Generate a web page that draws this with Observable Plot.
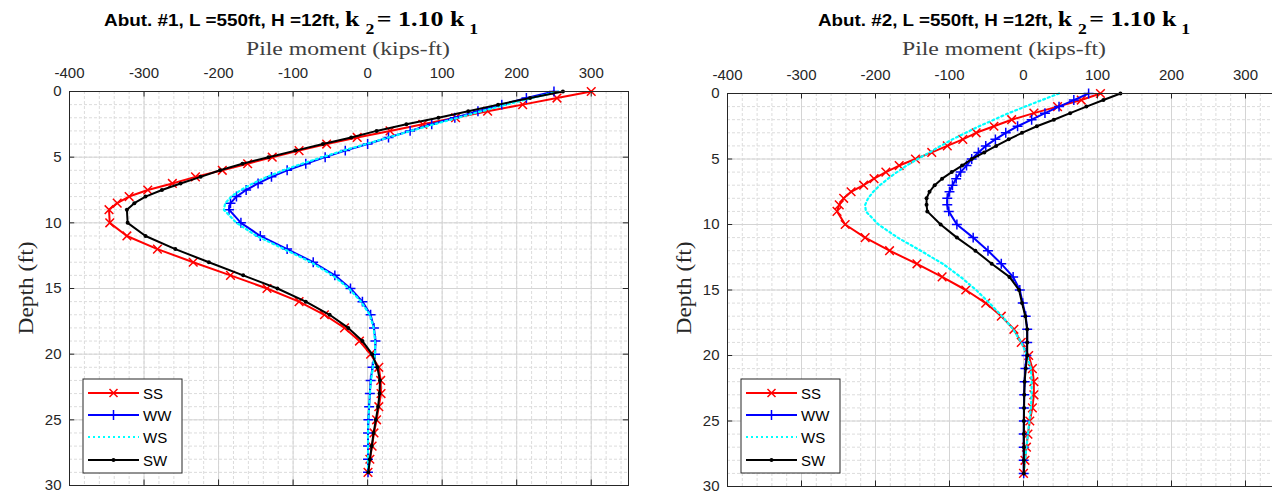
<!DOCTYPE html>
<html><head><meta charset="utf-8">
<script src="https://cdn.jsdelivr.net/npm/d3@7"></script>
<script src="https://cdn.jsdelivr.net/npm/@observablehq/plot@0.6"></script>
<style>
html,body{margin:0;padding:0;background:#fff}
#wrap{position:relative;width:1272px;height:494px;overflow:hidden;background:#fff}
.pnl{position:absolute;top:0}
.pnl svg{max-width:none !important;height:494px !important}
#overlay{position:absolute;left:0;top:0}
</style></head><body>
<div id="wrap">
<div id="p1" class="pnl" style="left:0px;width:640px"></div>
<div id="p2" class="pnl" style="left:658px;width:634px"></div>
<svg id="overlay" width="1272" height="494"></svg>
</div>
<script>
// ---------- data ----------
const depths = [0,0.5,1,1.5,2,2.5,3,3.5,4,4.5,5,5.5,6,6.5,7,7.5,8,8.5,9,
  10,11,12,13,14,15,16,17,18,19,20,21,22,23,24,25,26,27,28,29];

const seriesNames = ["SS","WW","WS","SW"];

// Abut. #1
const ss1 = [300,254,208,161,118,74,30,-14,-55,-92,-128,-161,-195,-231,-262,-295,-320,-336,-347,
  -346,-323,-282,-234,-184,-135,-92,-58,-31,-11,4,15,17.5,18,15,12,8.5,6,3,0.5];
const ww1 = [250,213,180,148,117,86,57,28,0,-30,-57,-83,-108,-129,-147,-163,-176,-184,-186,
  -170,-144,-108,-73,-44,-23,-7,4,8.5,10.5,10,6.5,4,3,2,1,0.5,0.5,0.5,0.5];
const ws1 = [256,220,186,153,121,89,58,28,-2,-33,-61,-88,-113,-135,-154,-170,-183,-191,-193,
  -176,-149,-112,-76,-47,-25,-9,3,8,10,10,7,4.5,3,2,1,0.5,0.5,0.5,0.5];
const sw1 = [262,218,175,135,95,52,12,-22,-60,-97,-133,-168,-198,-224,-251,-276,-298,-313,-323,
  -322,-298,-258,-213,-167,-121,-83,-51,-26,-7,6,13,16.5,16,14,11,8,5.5,3,1];

// Abut. #2
const ss2 = [104,78,46,14,-16,-40,-64,-82,-103,-124,-146,-168,-186,-202,-216,-233,-243,-249,-252,
  -241,-214,-181,-144,-110,-78,-51,-30,-13,-3,7,12,14,14,12,8.5,6,4,2,0];
const ww2 = [88,68,48,29,11,-8,-24,-38,-51,-61,-70,-77,-85,-91,-96,-100,-103,-103,-101,
  -90,-68,-48,-30,-14,-5,-1,3,5,5,4,2.5,1.5,1,0.5,0.5,0.3,0.3,0.3,0.3];
const ws2 = [48,25,2,-20,-40,-60,-78,-96,-112,-127,-143,-158,-171,-183,-194,-203,-210,-214,-213,
  -196,-170,-139,-109,-85,-64,-46,-29,-14,-3,5,10,11,11,10,8,6,4,2,0.5];
const sw2 = [131,108,85,63,41,18,-2,-20,-37,-53,-70,-83,-97,-110,-120,-127,-131,-131,-130,
  -112,-90,-65,-43,-19,-6,-2,2.5,5,5,5,3,1.5,1,0.8,0.5,0.5,0.5,0.5,0.5];

const xTicks = [-400,-300,-200,-100,0,100,200,300];
const yTicks = [0,5,10,15,20,25,30];
const xMinor = d3.range(-400, 351, 20);
const yMinor = d3.range(0, 31, 1);

const titles = [
  {main: "Abut. #1, L =550ft, H =12ft, ", x: 104, len: 374},
  {main: "Abut. #2, L =550ft, H =12ft,  ", x: 818, len: 372}
];
const xLabel = "Pile moment (kips-ft)";
const yLabel = "Depth (ft)";

// ---------- styles ----------
const styles = [
  {color: "#ff0000", symbol: "times", r: 4},
  {color: "#0000ff", symbol: "plus", r: 3.3},
  {color: "#00ffff", dash: "2,3"},
  {color: "#000000", dot: true}
];

function seriesMarks(vals, s) {
  const data = depths.map((d, i) => ({d, v: vals[i]}));
  const m = [Plot.line(data, {x: "v", y: "d", stroke: s.color, strokeWidth: s.dash ? 2.2 : 2, strokeDasharray: s.dash})];
  if (s.symbol) m.push(Plot.dot(data, {x: "v", y: "d", symbol: s.symbol, r: s.r, stroke: s.color, strokeWidth: 1.5, fill: "none"}));
  if (s.dot) m.push(Plot.dot(data, {x: "v", y: "d", r: 2, fill: s.color, stroke: "none"}));
  return m;
}

function panel(series, cfg) {
  const frameColor = "#262626";
  const svg = Plot.plot({
    width: cfg.width, height: 494,
    marginTop: cfg.mt, marginBottom: cfg.mb, marginLeft: 69, marginRight: cfg.mr,
    style: {fontFamily: "'Liberation Sans', Arial, sans-serif", fontSize: "15px", color: "#262626", background: "transparent", overflow: "visible"},
    x: {domain: [-400, 350], axis: null},
    y: {domain: [0, 30], reverse: true, axis: null},
    marks: [
      Plot.ruleX(xMinor, {stroke: "#dcdcdc", strokeWidth: 1, strokeDasharray: "3,2"}),
      Plot.ruleY(yMinor, {stroke: "#dcdcdc", strokeWidth: 1, strokeDasharray: "3,2"}),
      Plot.ruleX(xTicks, {stroke: "#d4d4d4", strokeWidth: 1}),
      Plot.ruleY(yTicks, {stroke: "#d4d4d4", strokeWidth: 1}),
      ...series.flatMap((vals, i) => seriesMarks(vals, styles[i])),
      Plot.ruleX(xTicks, {x: d => d, y1: 0, y2: 0.42, stroke: frameColor}),
      Plot.ruleX(xTicks, {x: d => d, y1: 29.58, y2: 30, stroke: frameColor}),
      Plot.ruleY(yTicks, {y: d => d, x1: -400, x2: -393, stroke: frameColor}),
      Plot.ruleY(yTicks, {y: d => d, x1: 343, x2: 350, stroke: frameColor}),
      Plot.frame({stroke: frameColor, strokeWidth: 1}),
      Plot.axisX(xTicks, {anchor: "top", tickSize: 0, tickPadding: 14, tickFormat: d => String(d), label: null, fontSize: 15}),
      Plot.axisY(yTicks, {anchor: "left", tickSize: 0, tickPadding: 8, tickFormat: d => String(d), label: null, fontSize: 15})
    ]
  });
  svg.style.maxWidth = "none";
  return svg;
}

document.getElementById("p1").appendChild(panel([ss1, ww1, ws1, sw1], {width: 640, mt: 91, mb: 9, mr: 12}));
document.getElementById("p2").appendChild(panel([ss2, ww2, ws2, sw2], {width: 634, mt: 93, mb: 8, mr: 10}));

// ---------- overlay texts and legends ----------
const ov = d3.select("#overlay");
const offsets = [0, 658];
const serif = "'Liberation Serif', 'Times New Roman', serif";

titles.forEach((t, k) => {
  const txt = ov.append("text").attr("x", t.x).attr("y", 26)
    .attr("textLength", t.len).attr("lengthAdjust", "spacingAndGlyphs").attr("fill", "#000");
  txt.append("tspan").attr("font-family", "'Liberation Sans', Arial, sans-serif").attr("font-weight", "bold").attr("font-size", 16).text(t.main);
  txt.append("tspan").attr("font-family", serif).attr("font-weight", "bold").attr("font-size", 22).text("k");
  txt.append("tspan").attr("font-family", serif).attr("font-weight", "bold").attr("font-size", 15).attr("dx", 5).attr("dy", 8).text("2");
  txt.append("tspan").attr("font-family", serif).attr("font-weight", "bold").attr("font-size", 22).attr("dx", 2).attr("dy", -8).text("= 1.10 k");
  txt.append("tspan").attr("font-family", serif).attr("font-weight", "bold").attr("font-size", 15).attr("dx", 4).attr("dy", 8).text("1");
});

offsets.forEach(o => {
  ov.append("text").attr("x", 348 + o - (o ? 2 : 0)).attr("y", 55).attr("text-anchor", "middle")
    .attr("font-family", serif).attr("font-size", 19)
    .attr("fill", "#404040").attr("textLength", 204).attr("lengthAdjust", "spacingAndGlyphs").text(xLabel);
  ov.append("text").attr("transform", `translate(${33 + o},288) rotate(-90)`).attr("text-anchor", "middle")
    .attr("font-family", serif).attr("font-size", 21)
    .attr("fill", "#262626").attr("textLength", 93).attr("lengthAdjust", "spacingAndGlyphs").text(yLabel);

  // legend
  const bx = 83 + o, by = 379;
  ov.append("rect").attr("x", bx).attr("y", by).attr("width", 99).attr("height", 94)
    .attr("fill", "#fff").attr("stroke", "#262626").attr("stroke-width", 1);
  const rows = [393, 415, 437, 460];
  const x1 = bx + 5, x2 = bx + 56, xm = (x1 + x2) / 2;
  seriesNames.forEach((name, i) => {
    const s = styles[i], y = rows[i];
    ov.append("line").attr("x1", x1).attr("x2", x2).attr("y1", y).attr("y2", y)
      .attr("stroke", s.color).attr("stroke-width", 2).attr("stroke-dasharray", s.dash || null);
    if (s.symbol === "times") {
      ov.append("path").attr("d", `M${xm-4},${y-4}L${xm+4},${y+4}M${xm-4},${y+4}L${xm+4},${y-4}`).attr("stroke", s.color).attr("stroke-width", 1.5);
    } else if (s.symbol === "plus") {
      ov.append("path").attr("d", `M${xm-5},${y}L${xm+5},${y}M${xm},${y-5}L${xm},${y+5}`).attr("stroke", s.color).attr("stroke-width", 1.5);
    } else if (s.dot) {
      ov.append("circle").attr("cx", xm).attr("cy", y).attr("r", 2).attr("fill", s.color);
    }
    ov.append("text").attr("x", x2 + 4).attr("y", y + 5.5)
      .attr("font-family", "'Liberation Sans', Arial, sans-serif").attr("font-size", 15).attr("fill", "#000").text(name);
  });
});
</script>
</body></html>
